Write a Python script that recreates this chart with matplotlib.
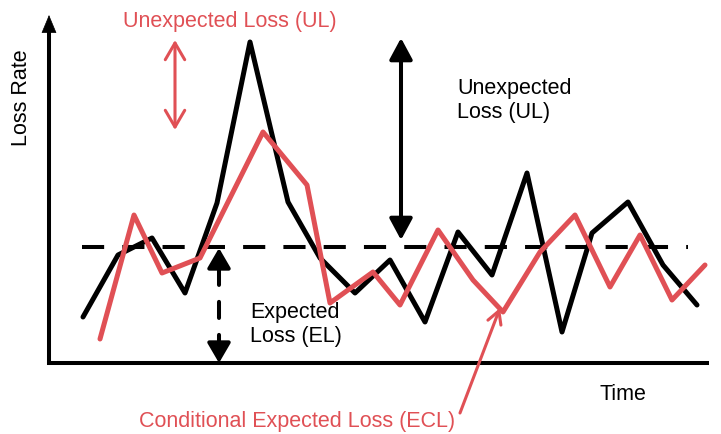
import matplotlib
matplotlib.use("Agg")
import matplotlib.pyplot as plt

plt.rcParams["font.family"] = ["Liberation Sans", "DejaVu Sans"]

RED = "#E05055"

# actual loss rate (black) and conditional expected loss (red)
time_actual = [3.4, 6.9, 10.3, 13.6, 16.8, 20.1, 23.9, 27.1, 30.6, 34.1,
               37.6, 40.9, 44.3, 47.8, 51.3, 54.3, 57.9, 61.4, 64.8]
loss_actual = [4.6, 10.8, 12.5, 7.0, 16.0, 32.1, 16.1, 10.5, 7.0, 10.3,
               4.1, 13.1, 8.8, 19.0, 3.1, 13.0, 16.1, 9.8, 5.8]

time_ecl = [5.1, 8.5, 11.3, 15.1, 21.4, 25.8, 28.1, 32.4, 35.1, 38.9,
            42.4, 45.4, 49.1, 52.6, 56.1, 59.1, 62.3, 65.6]
loss_ecl = [2.4, 14.8, 9.0, 10.5, 23.1, 17.8, 6.0, 9.1, 5.8, 13.3,
            8.3, 5.1, 11.1, 14.8, 7.6, 12.8, 6.3, 9.8]

expected_loss = 11.6
el_span = (3.3, 63.9)

fig = plt.figure(figsize=(7.21, 4.34), dpi=100)
ax = fig.add_axes([0, 0, 1, 1])
ax.set_xlim(-4.9, 67.2)
ax.set_ylim(-7.1, 36.3)
ax.axis("off")

# axes with arrows
ax.plot([0, 0, 66.0], [33.5, 0, 0], color="k", lw=2.9,
        solid_joinstyle="miter", solid_capstyle="butt")
ax.annotate("", xy=(0, 34.8), xytext=(0, 32.0),
            arrowprops=dict(arrowstyle="-|>,head_length=12,head_width=5",
                            mutation_scale=1, color="k", lw=0.5,
                            shrinkA=0, shrinkB=0))
ax.annotate("", xy=(67.4, 0), xytext=(64.5, 0),
            arrowprops=dict(arrowstyle="-|>,head_length=10,head_width=5.5",
                            mutation_scale=1, color="k", lw=0.5,
                            shrinkA=0, shrinkB=0))

# expected loss level
ax.plot(el_span, [expected_loss, expected_loss], color="k", lw=2.9,
        dashes=(5.5, 4.5), solid_capstyle="butt")

# series
ax.plot(time_actual, loss_actual, color="k", lw=3.6,
        solid_joinstyle="round", solid_capstyle="round", zorder=3)
ax.plot(time_ecl, loss_ecl, color=RED, lw=3.6,
        solid_joinstyle="round", solid_capstyle="round", zorder=4)

# UL arrow (black)
ax.annotate("", xy=(35.2, 32.5), xytext=(35.2, 12.3),
            arrowprops=dict(arrowstyle="<|-|>,head_length=13,head_width=7",
                            mutation_scale=1, color="k", lw=2.9,
                            shrinkA=0, shrinkB=0))

# EL arrow: dashed shaft, solid heads
el_x = 17.0
ax.plot([el_x, el_x], [1.2, expected_loss - 1.3], color="k", lw=2.9,
        dashes=(4, 4.2), dash_capstyle="round")
ax.annotate("", xy=(el_x, expected_loss - 0.1), xytext=(el_x, expected_loss - 1.4),
            arrowprops=dict(arrowstyle="-|>,head_length=12,head_width=7",
                            mutation_scale=1, color="k", lw=2.9,
                            shrinkA=0, shrinkB=0))
ax.annotate("", xy=(el_x, 0), xytext=(el_x, 1.4),
            arrowprops=dict(arrowstyle="-|>,head_length=12,head_width=7",
                            mutation_scale=1, color="k", lw=2.9,
                            shrinkA=0, shrinkB=0))

# UL arrow (red)
ax.annotate("", xy=(12.6, 32.3), xytext=(12.6, 23.3),
            arrowprops=dict(arrowstyle="<->,head_length=12,head_width=7",
                            mutation_scale=1, color=RED, lw=2.2,
                            shrinkA=0, shrinkB=0))
# ECL pointer
ax.annotate("", xy=(45.1, 5.5), xytext=(41.1, -5.0),
            arrowprops=dict(arrowstyle="->,head_length=9,head_width=5",
                            mutation_scale=1, color=RED, lw=2.2,
                            shrinkA=0, shrinkB=0))

fs = 15.5
ax.text(7.4, 34.1, "Unexpected Loss (UL)", color=RED, fontsize=fs,
        va="center", ha="left")
ax.text(40.8, 26.25, "Unexpected\nLoss (UL)", color="k", fontsize=fs,
        va="center", ha="left", linespacing=1.15)
ax.text(20.1, 3.85, "Expected\nLoss (EL)", color="k", fontsize=fs,
        va="center", ha="left", linespacing=1.15)
ax.text(-2.7, 26.5, "Loss Rate", color="k", fontsize=fs, rotation=90,
        va="center", ha="center")
ax.text(55.1, -3.2, "Time", color="k", fontsize=fs, va="center", ha="left")
ax.text(9.0, -5.9, "Conditional Expected Loss (ECL)", color=RED,
        fontsize=fs, va="center", ha="left")

fig.savefig("out.png", dpi=100)
